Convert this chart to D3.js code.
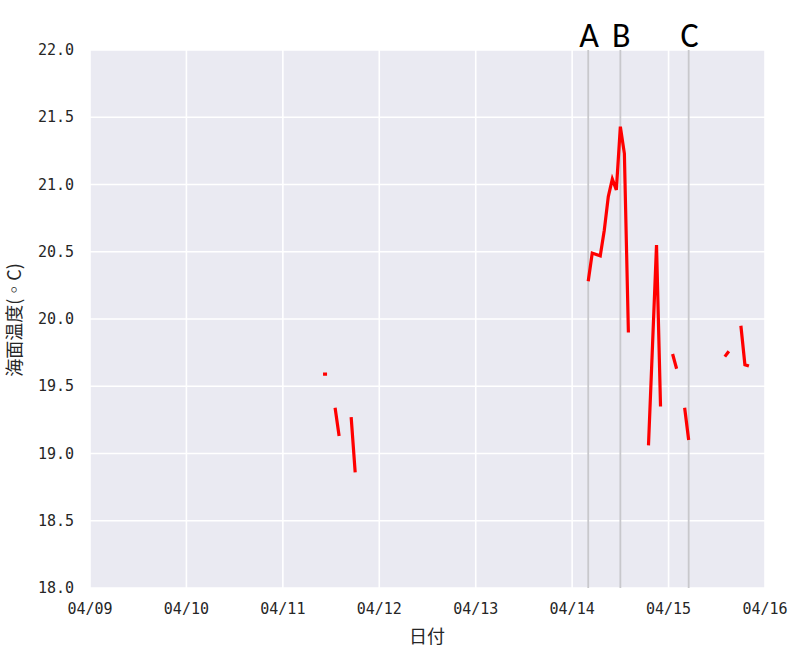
<!DOCTYPE html>
<html><head><meta charset="utf-8">
<script src="https://cdn.jsdelivr.net/npm/d3@7"></script>
<style>body{margin:0;background:#fff}</style>
</head><body><svg id="c" width="796" height="653"></svg>
<script>
// Times as "MM/DD HH" (2016), values in °C; null = gap
const times = [
 "04/11 10","04/11 11",null,
 "04/11 13","04/11 14",null,
 "04/11 17","04/11 18",null,
 "04/14 04","04/14 05","04/14 06","04/14 07","04/14 08","04/14 09","04/14 10","04/14 11","04/14 12","04/14 13","04/14 14",null,
 "04/14 19","04/14 20","04/14 21","04/14 22",null,
 "04/15 01","04/15 02",null,
 "04/15 04","04/15 05",null,
 "04/15 14","04/15 15",null,
 "04/15 18","04/15 19","04/15 20"
];
const temps = [
 19.59,19.59,null,
 19.34,19.13,null,
 19.27,18.86,null,
 20.28,20.49,20.48,20.47,20.66,20.91,21.04,20.96,21.43,21.23,19.90,null,
 19.06,19.80,20.55,19.35,null,
 19.74,19.63,null,
 19.34,19.10,null,
 19.72,19.76,null,
 19.95,19.66,19.65
];
const events = ["A","B","C"];
const eventTimes = ["04/14 04","04/14 12","04/15 05"];
const xTicks = ["04/09","04/10","04/11","04/12","04/13","04/14","04/15","04/16"];
const yTicks = [18.0,18.5,19.0,19.5,20.0,20.5,21.0,21.5,22.0];

const parse = s => { const [md,h] = s.split(" "); const [m,d] = md.split("/"); return new Date(2016, +m-1, +d, h?+h:0); };
const svg = d3.select("#c");
const L=90,R=765,T=50,B=588;
const x = d3.scaleTime().domain([parse("04/09"),parse("04/16")]).range([L,R]);
const y = d3.scaleLinear().domain([18,22]).range([B,T]);

svg.append("rect").attr("x",L).attr("y",T).attr("width",R-L).attr("height",B-T).attr("fill","#EAEAF2");
const g = svg.append("g");
xTicks.forEach(t=>{
  g.append("line").attr("x1",x(parse(t))).attr("x2",x(parse(t))).attr("y1",T).attr("y2",B).attr("stroke","#fff").attr("stroke-width",1.6);
});
yTicks.forEach(v=>{
  g.append("line").attr("x1",L).attr("x2",R).attr("y1",y(v)).attr("y2",y(v)).attr("stroke","#fff").attr("stroke-width",1.6);
});
// event lines
eventTimes.forEach((t,i)=>{
  const xx = x(parse(t));
  svg.append("line").attr("x1",xx).attr("x2",xx).attr("y1",T).attr("y2",B).attr("stroke","#c8c8cc").attr("stroke-width",1.8);
  svg.append("text").attr("x",xx+1).attr("y",47).attr("text-anchor","middle")
    .attr("font-family","Carlito, 'Liberation Sans', Arial, sans-serif").attr("font-size",34).attr("fill","#000").text(events[i]);
});
// data line
const data = times.map((t,i)=> t===null ? null : {t:parse(t), v:temps[i]});
const line = d3.line().defined(d=>d!==null).x(d=>x(d.t)).y(d=>y(d.v));
svg.append("path").datum(data).attr("d",line).attr("fill","none").attr("stroke","#ff0000").attr("stroke-width",3.2);

// axes text
const tf = "'DejaVu Sans Mono', monospace";
yTicks.forEach(v=>{
  svg.append("text").attr("x",74).attr("y",y(v)+5).attr("text-anchor","end").attr("font-family",tf).attr("font-size",15).attr("fill","#262626").text(d3.format(".1f")(v));
});
xTicks.forEach(t=>{
  svg.append("text").attr("x",x(parse(t))).attr("y",614).attr("text-anchor","middle").attr("font-family",tf).attr("font-size",15).attr("fill","#262626").text(t);
});
svg.append("text").attr("x",427).attr("y",643).attr("text-anchor","middle").attr("font-family","'Noto Sans CJK JP', sans-serif").attr("font-size",18).attr("fill","#262626").text("日付");
svg.append("text").attr("transform","translate(21,320) rotate(-90)").attr("text-anchor","middle").attr("font-family","'Noto Sans CJK JP', sans-serif").attr("font-size",18).attr("fill","#262626").text("海面温度(◦C)");
</script></body></html>
